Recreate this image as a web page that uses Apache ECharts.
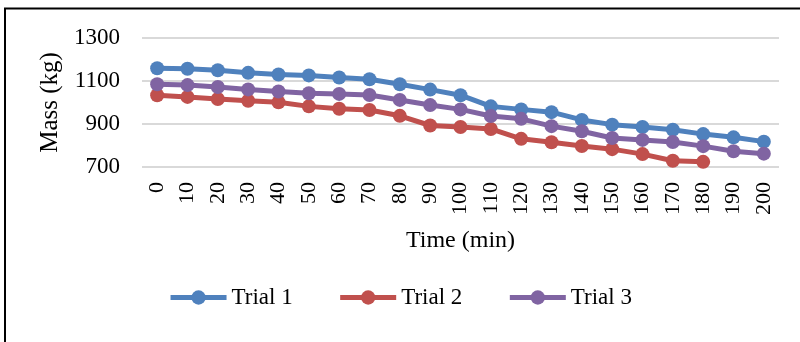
<!DOCTYPE html>
<html>
<head>
<meta charset="utf-8">
<script src="https://cdn.jsdelivr.net/npm/echarts@6/dist/echarts.min.js"></script>
<style>html,body{margin:0;padding:0;background:#fff}#c{width:800px;height:342px}</style>
</head>
<body>
<div id="c"></div>
<script>
const categories = ['0','10','20','30','40','50','60','70','80','90','100','110','120','130','140','150','160','170','180','190','200'];
const trial1 = [1159,1157,1150,1138,1130,1126,1116,1108,1085,1060,1034,982,968,955,919,897,886,873,853,838,818];
const trial2 = [1034,1026,1016,1008,1001,982,971,965,938,893,886,877,831,815,798,783,760,729,724,null,null];
const trial3 = [1085,1081,1072,1061,1051,1043,1040,1035,1012,988,968,937,924,890,866,835,826,816,797,773,762];
const seriesNames = ['Trial 1','Trial 2','Trial 3'];
const colors = ['#4F81BD','#C0504D','#8064A2'];
const yTicks = {min:700, max:1300, interval:200};

const font = '"Liberation Serif", "Times New Roman", serif';
const chart = echarts.init(document.getElementById('c'));
const mk = (name, data, color) => ({
  name, type:'line', data, color,
  symbol:'circle', symbolSize:14,
  lineStyle:{width:5, color},
  itemStyle:{color},
  connectNulls:false,
  animation:false
});
chart.setOption({
  animation:false,
  textStyle:{fontFamily:font, color:'#000'},
  grid:{left:142, right:21, top:38, bottom:175},
  xAxis:{
    type:'category', data:categories, boundaryGap:true,
    name:'Time (min)', nameLocation:'middle', nameGap:62,
    nameTextStyle:{fontFamily:font, fontSize:24, color:'#000'},
    axisLine:{show:false}, axisTick:{show:false},
    axisLabel:{rotate:90, margin:15, fontFamily:font, fontSize:22, color:'#000', interval:0}
  },
  yAxis:{
    type:'value', min:yTicks.min, max:yTicks.max, interval:yTicks.interval,
    name:'Mass (kg)', nameLocation:'middle', nameGap:73,
    nameTextStyle:{fontFamily:font, fontSize:25, color:'#000'},
    axisLine:{show:false}, axisTick:{show:false},
    axisLabel:{margin:22, fontFamily:font, fontSize:23, color:'#000', formatter:v => String(v)},
    splitLine:{lineStyle:{color:'#d9d9d9', width:2}}
  },
  legend:{
    data:seriesNames, left:'center', top:281,
    itemWidth:56, itemHeight:18, itemGap:45,
    lineStyle:{width:5},
    textStyle:{fontFamily:font, fontSize:23, color:'#000'}
  },
  graphic:[{
    type:'rect', shape:{x:5, y:8.5, width:900, height:500},
    style:{fill:null, stroke:'#000', lineWidth:2}, silent:true
  }],
  series:[
    mk(seriesNames[0], trial1, colors[0]),
    mk(seriesNames[1], trial2, colors[1]),
    mk(seriesNames[2], trial3, colors[2])
  ]
});
</script>
</body>
</html>
